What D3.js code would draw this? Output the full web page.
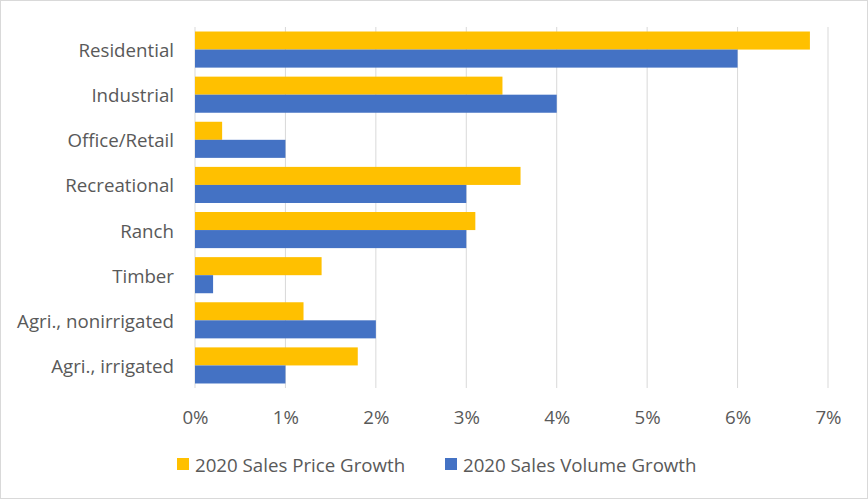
<!DOCTYPE html>
<html>
<head>
<meta charset="utf-8">
<script src="https://cdn.jsdelivr.net/npm/d3@7"></script>
<style>
  body { margin: 0; background: #fff; }
  svg { display: block; font-family: "Open Sans", sans-serif; }
</style>
</head>
<body>
<svg id="chart" width="868" height="500"></svg>
<script>
// Données du graphique
const categories = ["Residential", "Industrial", "Office/Retail", "Recreational", "Ranch", "Timber", "Agri., nonirrigated", "Agri., irrigated"];
const priceGrowth = [6.8, 3.4, 0.3, 3.6, 3.1, 1.4, 1.2, 1.8];
const volumeGrowth = [6.0, 4.0, 1.0, 3.0, 3.0, 0.2, 2.0, 1.0];
const seriesNames = ["2020 Sales Price Growth", "2020 Sales Volume Growth"];
const tickValues = [0, 1, 2, 3, 4, 5, 6, 7];

const colors = ["#FFC000", "#4472C4"];
const margin = {top: 27, right: 40, bottom: 112, left: 195};
const width = 868, height = 500;
const fontSize = "18.7px";
const textColor = "#595959";

const svg = d3.select("#chart");

// Cadre autour du graphique
svg.append("rect")
  .attr("x", 0.5).attr("y", 0.5)
  .attr("width", width - 1).attr("height", height - 2)
  .attr("fill", "none").attr("stroke", "#d9d9d9");

const x = d3.scaleLinear().domain([0, 7]).range([margin.left, 828]);
const y = d3.scaleBand().domain(categories).range([margin.top, height - margin.bottom]).paddingInner(0.2).paddingOuter(0.1);
const ySub = d3.scaleBand().domain([0, 1]).range([0, y.bandwidth()]);

// Lignes de grille verticales
svg.append("g")
  .selectAll("line")
  .data(tickValues)
  .join("line")
  .attr("x1", d => x(d)).attr("x2", d => x(d))
  .attr("y1", margin.top).attr("y2", height - margin.bottom)
  .attr("stroke", "#d9d9d9").attr("stroke-width", 1);

// Barres
const data = categories.map((c, i) => ({cat: c, vals: [priceGrowth[i], volumeGrowth[i]]}));
const groups = svg.append("g").selectAll("g")
  .data(data)
  .join("g")
  .attr("transform", d => `translate(0,${y(d.cat)})`);

groups.selectAll("rect")
  .data(d => d.vals)
  .join("rect")
  .attr("x", x(0))
  .attr("y", (d, i) => ySub(i))
  .attr("width", d => x(d) - x(0))
  .attr("height", ySub.bandwidth())
  .attr("fill", (d, i) => colors[i]);

// Libellés des catégories
svg.append("g")
  .selectAll("text")
  .data(categories)
  .join("text")
  .attr("x", 174)
  .attr("y", d => y(d) + y.bandwidth() / 2)
  .attr("text-anchor", "end")
  .attr("dominant-baseline", "central")
  .attr("font-size", fontSize)
  .attr("fill", textColor)
  .text(d => d);

// Axe des x
const xAxis = d3.axisBottom(x).tickValues(tickValues).tickFormat(d => d + "%").tickSize(0).tickPadding(0);
const axisG = svg.append("g")
  .attr("transform", `translate(0,${height - margin.bottom + 23})`)
  .call(xAxis);
axisG.select(".domain").remove();
axisG.selectAll("text")
  .attr("font-size", fontSize)
  .attr("fill", textColor)
  .attr("font-family", "'Open Sans', sans-serif");

// Légende
const legendX = [177, 445];
const legend = svg.append("g").selectAll("g")
  .data(seriesNames)
  .join("g")
  .attr("transform", (d, i) => `translate(${legendX[i]},458)`);
legend.append("rect")
  .attr("width", 12).attr("height", 12)
  .attr("fill", (d, i) => colors[i]);
legend.append("text")
  .attr("x", 18).attr("y", 6)
  .attr("dominant-baseline", "central")
  .attr("font-size", fontSize)
  .attr("fill", textColor)
  .text(d => d);
</script>
</body>
</html>
